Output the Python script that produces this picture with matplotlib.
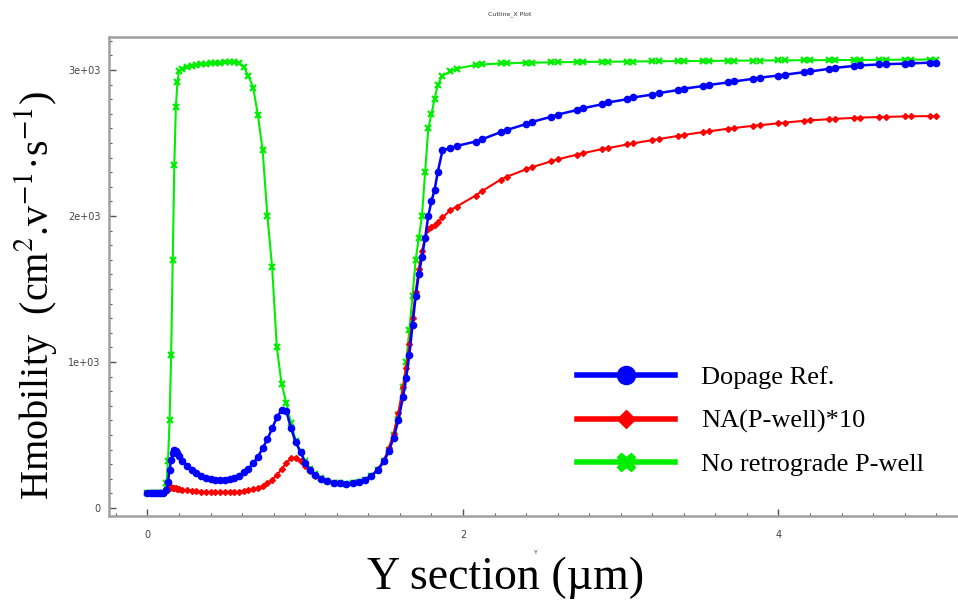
import matplotlib
matplotlib.use("Agg")
import matplotlib.pyplot as plt
from matplotlib.lines import Line2D
from matplotlib.ticker import MultipleLocator

# cutline mesh (Y section, um) shared by the three runs
y_section = [0.00, 0.02, 0.04, 0.06, 0.08, 0.10, 0.12, 0.13, 0.14, 0.15, 0.16, 0.17, 0.18, 0.19, 0.20, 0.22,
             0.25, 0.28, 0.31, 0.34, 0.37, 0.40, 0.43, 0.46, 0.49, 0.52, 0.55, 0.58, 0.61, 0.64, 0.67, 0.70,
             0.73, 0.76, 0.79, 0.82, 0.85, 0.88, 0.91, 0.94, 0.97, 1.00, 1.03, 1.06, 1.10, 1.14, 1.18, 1.22,
             1.26, 1.30, 1.34, 1.38, 1.42, 1.46, 1.50, 1.53, 1.56, 1.59, 1.62, 1.64, 1.66, 1.68, 1.70, 1.72,
             1.74, 1.76, 1.78, 1.80, 1.82, 1.84, 1.87,
             1.92, 1.96, 2.08, 2.12, 2.24, 2.28, 2.40, 2.44, 2.56, 2.60, 2.72, 2.76, 2.88, 2.92, 3.04, 3.08,
             3.20, 3.24, 3.36, 3.40, 3.52, 3.56, 3.68, 3.72, 3.84, 3.88, 4.00, 4.04, 4.16, 4.20, 4.32, 4.36,
             4.48, 4.52, 4.64, 4.68, 4.80, 4.84, 4.96, 5.00]

dopage_ref = [100, 100, 100, 100, 100, 102, 120, 180, 260, 330, 375, 395, 390, 375, 355, 325,
              290, 260, 238, 220, 207, 197, 191, 189, 190, 196, 207, 222, 243, 270, 305, 350,
              410, 470, 545, 620, 672, 665, 545, 450, 385, 310, 260, 225, 200, 183, 173, 168,
              167, 170, 180, 195, 220, 260, 320, 390, 480, 600, 760, 890, 1050, 1250, 1450, 1600,
              1720, 1850, 2000, 2100, 2180, 2300, 2450,
              2465, 2480, 2510, 2525, 2575, 2590, 2630, 2645, 2680, 2695, 2725, 2738, 2765, 2778, 2800, 2812,
              2832, 2842, 2862, 2872, 2890, 2898, 2915, 2922, 2940, 2948, 2962, 2968, 2985, 2990, 3008, 3015,
              3028, 3032, 3038, 3040, 3044, 3046, 3050, 3050]

na_pwell_x10 = [100, 100, 100, 100, 100, 102, 115, 130, 140, 142, 140, 138, 136, 133, 130, 126,
                121, 117, 114, 112, 110, 109, 108, 108, 108, 109, 110, 112, 115, 120, 127, 137,
                150, 170, 195, 225, 265, 310, 340, 345, 320, 285, 250, 220, 198, 183, 173, 168,
                167, 170, 180, 195, 222, 265, 330, 410, 510, 650, 830, 960, 1120, 1300, 1480, 1640,
                1760, 1850, 1910, 1925, 1940, 1960, 1990,
                2040, 2065, 2140, 2170, 2250, 2270, 2320, 2335, 2375, 2388, 2420, 2430, 2458, 2465, 2490, 2498,
                2520, 2527, 2548, 2555, 2575, 2580, 2598, 2603, 2618, 2622, 2635, 2640, 2652, 2655, 2663, 2666,
                2672, 2674, 2678, 2679, 2682, 2683, 2684, 2684]

no_retrograde = [100, 100, 100, 100, 100, 105, 170, 320, 600, 1050, 1700, 2350, 2750, 2920, 2990, 3010,
                 3020, 3028, 3033, 3038, 3042, 3045, 3048, 3050, 3052, 3054, 3055, 3045, 3020, 2960, 2880, 2690,
                 2450, 2000, 1650, 1100, 850, 720, 580, 460, 380, 320, 270, 235, 205, 185, 174, 168,
                 167, 170, 180, 195, 220, 262, 325, 400, 500, 640, 830, 1000, 1220, 1450, 1700, 1850,
                 2000, 2300, 2600, 2700, 2800, 2900, 2960,
                 2990, 3010, 3035, 3038, 3045, 3046, 3050, 3050, 3053, 3053, 3055, 3055, 3057, 3057, 3058, 3058,
                 3060, 3060, 3061, 3061, 3062, 3062, 3064, 3064, 3065, 3065, 3066, 3066, 3067, 3067, 3068, 3068,
                 3069, 3069, 3070, 3070, 3071, 3071, 3072, 3072]

labels = ["Dopage Ref.", "NA(P-well)*10", "No retrograde P-well"]
xticks = [0, 2, 4]
yticks = [0, 1000, 2000, 3000]
ytick_labels = ["0", "1e+03", "2e+03", "3e+03"]

serif = "Liberation Serif"

fig = plt.figure(figsize=(9.58, 6.10), dpi=100)
ax = fig.add_axes([109/958, 94/610, 0.93, 0.7852])

ax.plot(y_section, no_retrograde, color="#00ee00", lw=1.5, marker="x", ms=4.5, mew=1.6, zorder=2)
ax.plot(y_section, dopage_ref, color="#0000ff", lw=1.8, marker="o", ms=4.5, zorder=4)
ax.plot(y_section, na_pwell_x10, color="#ff0000", lw=1.5, marker="D", ms=3, zorder=3)

ax.set_xlim(-0.244, 5.404)
ax.set_ylim(-55, 3226)
ax.set_xticks(xticks)
ax.set_yticks(yticks)
ax.set_yticklabels(ytick_labels)
ax.xaxis.set_minor_locator(MultipleLocator(0.2))
ax.yaxis.set_minor_locator(MultipleLocator(100))
ax.tick_params(which="both", direction="in", color="#555555", labelsize=7, labelcolor="#444444")
ax.tick_params(which="major", length=5, width=1)
ax.tick_params(which="minor", length=2.5, width=0.8)
ax.tick_params(axis="x", pad=10)
ax.tick_params(axis="y", pad=6)
for s in ["left", "bottom", "top"]:
    ax.spines[s].set_color("#a0a0a0")
    ax.spines[s].set_linewidth(1.8)
ax.spines["right"].set_visible(False)

fig.text(510/958, 1 - 14/610, "Cutline_X Plot", ha="center", va="center", fontsize=4.5, color="#333333")
fig.text(536/958, 1 - 553/610, "Y", ha="center", va="center", fontsize=4.5, color="#333333")
fig.text(506/958, 1 - 578/610, "Y section (\u00b5m)", ha="center", va="center", fontsize=33, family=serif)
fig.text(36/958, 1 - 295/610, "Hmobility  (cm$^{2}$.v$^{-1}$\u00b7s$^{-1}$)", ha="center", va="center",
         rotation=90, fontsize=29, family=serif, math_fontfamily="stix")

handles = [Line2D([], [], color="#0000ff", lw=4, marker="o", ms=13),
           Line2D([], [], color="#ff0000", lw=4, marker="D", ms=9),
           Line2D([], [], color="#00ee00", lw=4, marker="X", ms=13)]
fig.legend(handles, labels, loc="upper left", bbox_to_anchor=(577/958, 1 - 366/610),
           frameon=False, prop={"family": serif, "size": 19}, handlelength=3.7,
           handletextpad=1.0, labelspacing=0.75, borderpad=0, borderaxespad=0)

plt.savefig("out.png", dpi=100)
